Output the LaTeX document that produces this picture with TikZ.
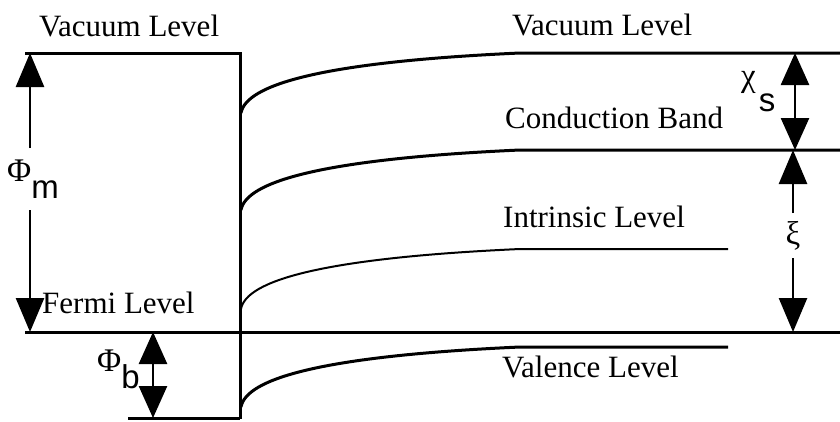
\documentclass[tikz,border=0pt]{standalone}
\usepackage{fontspec}
\setmainfont{Liberation Serif}
\newfontfamily\subfont{Liberation Sans}
\usepackage{tikz}
\usetikzlibrary{arrows.meta}

\newcommand{\lowsub}[2]{\raisebox{-#1}{\subfont #2}}

\begin{document}
\begin{tikzpicture}[
  x=1pt, y=-1pt,
  level/.style={line width=3pt},
  thinlevel/.style={line width=2pt},
  dim/.style={-{Triangle[length=34pt, width=28pt]}, line width=2.6pt},
  dimboth/.style={{Triangle[length=32pt, width=28pt]}-{Triangle[length=32pt, width=28pt]}, line width=2.6pt},
  lbl/.style={font=\fontsize{31}{36}\selectfont, inner sep=0pt, anchor=base west},
  sym/.style={font=\fontsize{33}{38}\selectfont, inner sep=0pt}
]
\useasboundingbox (0,0) rectangle (840,421);

% metal side
\draw[level] (25,53) -- (240,53);
\draw[level] (240,52) -- (240,419);
\draw[level] (128,418) -- (240,418);
\draw[level] (25,332) -- (840,332);

% bent bands in the semiconductor
\foreach \lev/\xend/\kind in {53/840/level, 150/840/level, 249/728/thinlevel, 347/728/level}
  \draw[\kind] (241,\lev+60) .. controls (246,\lev+32) and (320,\lev+9) .. (520,\lev) -- (\xend,\lev);

% level names
\node[lbl] (vacm)  at (39,36)   {Vacuum Level};
\node[lbl] (vacs)  at (512,35)  {Vacuum Level};
\node[lbl] (cond)  at (505,128) {Conduction Band};
\node[lbl] (intr)  at (503,227) {Intrinsic Level};
\node[lbl] (fermi) at (42,313)  {Fermi Level};
\node[lbl] (val)   at (502,377) {Valence Level};

% energy labels
\node[sym, anchor=base west] (phim) at (7,181)   {Φ\lowsub{17pt}{m}};
\node[sym, anchor=base west] (phib) at (97,371)  {Φ\lowsub{17pt}{b}};
\node[sym, anchor=base west] (chis) at (741,86)  {χ\hspace{3pt}\lowsub{25pt}{s}};
\node[sym] (xi) at (793,236) {ξ};

% arrow ends
\coordinate (mvac)   at (30,53);
\coordinate (mfermi) at (30,332);
\coordinate (phimhi) at (30,148);
\coordinate (phimlo) at (30,210);
\coordinate (bfermi) at (153,332);
\coordinate (bbot)   at (153,418);
\coordinate (svac)   at (795,53);
\coordinate (scond)  at (795,150);
\coordinate (xitop)  at (793,150);
\coordinate (xihi)   at (793,213);
\coordinate (xilo)   at (793,258);
\coordinate (sfermi) at (793,332);

\draw[dim] (phimhi) -- (mvac);
\draw[dim] (phimlo) -- (mfermi);
\draw[dimboth] (bfermi) -- (bbot);
\draw[dimboth] (svac) -- (scond);
\draw[dim] (xihi) -- (xitop);
\draw[dim] (xilo) -- (sfermi);
\end{tikzpicture}
\end{document}
